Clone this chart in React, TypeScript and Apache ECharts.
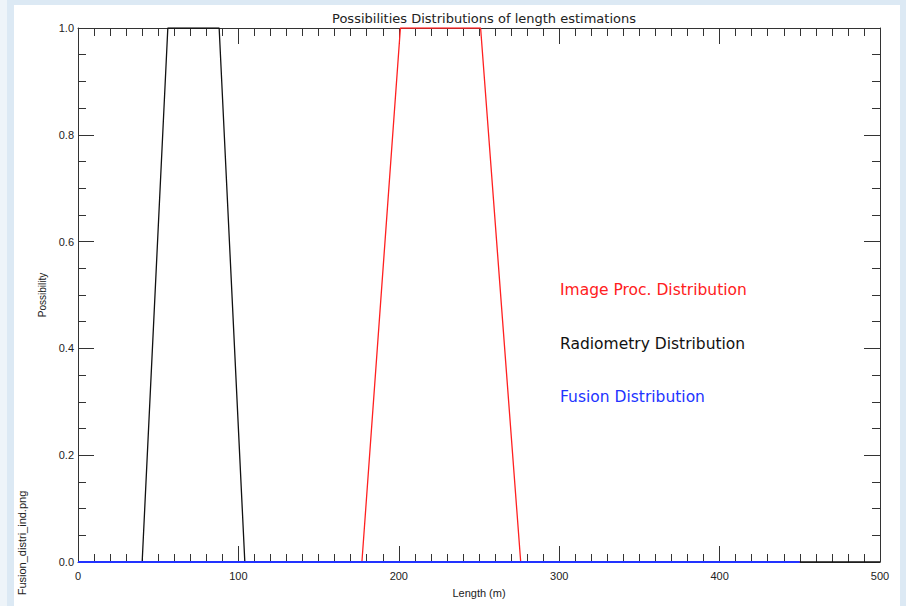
import React, { useEffect, useRef } from "react";
import * as echarts from "echarts";

const radiometryX = [0, 40, 56, 88, 104, 500];
const radiometryY = [0, 0, 1, 1, 0, 0];
const imageProcX = [0, 177, 201, 251, 276, 450];
const imageProcY = [0, 0, 1, 1, 0, 0];
const fusionX = [0, 450];
const fusionY = [0, 0];

const xTicks = [0, 100, 200, 300, 400, 500];
const yTicks = [0, 0.2, 0.4, 0.6, 0.8, 1.0];

const legendTexts = ["Image Proc. Distribution", "Radiometry Distribution", "Fusion Distribution"];
const legendColors = ["#ff2020", "#111111", "#2233ff"];

const pairs = (xs: number[], ys: number[]) => xs.map((x, i) => [x, ys[i]]);

export default function App() {
  const ref = useRef<HTMLDivElement>(null);
  useEffect(() => {
    if (!ref.current) return;
    const chart = echarts.init(ref.current, null, { renderer: "svg" });
    const font = "Liberation Sans, DejaVu Sans, sans-serif";
    const dfont = "DejaVu Sans, sans-serif";
    const axisLine = { show: true, onZero: false, lineStyle: { color: "#333", width: 1 } };
    const axisTick = { show: true, inside: true, length: 16, lineStyle: { color: "#333", width: 1 } };
    const minorTick = (n: number) => ({ show: true, splitNumber: n, length: 8, lineStyle: { color: "#333", width: 1 } });
    chart.setOption({
      animation: false,
      backgroundColor: "#dce9f4",
      title: {
        text: "Possibilities Distributions of length estimations",
        left: 479,
        textAlign: "center",
        top: 7,
        textStyle: { fontSize: 13, fontWeight: "normal", color: "#222", fontFamily: dfont },
      },
      graphic: [
        { type: "rect", z: -10, silent: true, shape: { x: 0, y: 0, width: 7, height: 606 }, style: { fill: "#eef4f9" } },
        { type: "rect", z: -10, silent: true, shape: { x: 14, y: 5, width: 886, height: 601 }, style: { fill: "#ffffff" } },
        ...legendTexts.map((t, i) => ({
          type: "text",
          x: 560,
          y: 290 + i * 53.5,
          style: { text: t, fill: legendColors[i], fontSize: 15.5, fontFamily: dfont, verticalAlign: "middle", align: "left" },
        })),
        {
          type: "text",
          x: 22,
          y: 543,
          rotation: Math.PI / 2,
          style: { text: "Fusion_distri_ind.png", fill: "#222", fontSize: 11, fontFamily: font, align: "center", verticalAlign: "middle" },
        },
      ],
      grid: { left: 78, right: 26, top: 28, bottom: 44, containLabel: false },
      xAxis: [
        {
          type: "value",
          position: "bottom",
          min: xTicks[0],
          max: xTicks[xTicks.length - 1],
          interval: 100,
          minorTick: minorTick(10),
          axisLine,
          axisTick,
          splitLine: { show: false },
          axisLabel: { color: "#222", fontSize: 11, fontFamily: font, margin: 8, formatter: (v: number) => String(v) },
          name: "Length (m)",
          nameLocation: "middle",
          nameGap: 25,
          nameTextStyle: { color: "#222", fontSize: 11, fontFamily: font },
        },
        {
          type: "value",
          position: "top",
          min: xTicks[0],
          max: xTicks[xTicks.length - 1],
          interval: 100,
          minorTick: minorTick(10),
          axisLine,
          axisTick,
          splitLine: { show: false },
          axisLabel: { show: false },
        },
      ],
      yAxis: [
        {
          type: "value",
          position: "left",
          min: yTicks[0],
          max: yTicks[yTicks.length - 1],
          interval: 0.2,
          minorTick: minorTick(4),
          axisLine,
          axisTick,
          splitLine: { show: false },
          axisLabel: { color: "#222", fontSize: 11, fontFamily: font, margin: 4, formatter: (v: number) => v.toFixed(1) },
          name: "Possibility",
          nameLocation: "middle",
          nameRotate: 90,
          nameGap: 30,
          nameTextStyle: { color: "#222", fontSize: 10, fontFamily: font },
        },
        {
          type: "value",
          position: "right",
          min: yTicks[0],
          max: yTicks[yTicks.length - 1],
          interval: 0.2,
          minorTick: minorTick(4),
          axisLine,
          axisTick,
          splitLine: { show: false },
          axisLabel: { show: false },
        },
      ],
      series: [
        {
          name: "Radiometry Distribution",
          type: "line",
          data: pairs(radiometryX, radiometryY),
          symbol: "none",
          lineStyle: { color: "#111", width: 1.3 },
          z: 3,
        },
        {
          name: "Image Proc. Distribution",
          type: "line",
          data: pairs(imageProcX, imageProcY),
          symbol: "none",
          lineStyle: { color: "#ff2020", width: 1.3 },
          z: 4,
        },
        {
          name: "Fusion Distribution",
          type: "line",
          data: pairs(fusionX, fusionY),
          symbol: "none",
          lineStyle: { color: "#2233ff", width: 2 },
          z: 5,
        },
      ],
    });
    return () => chart.dispose();
  }, []);
  return <div ref={ref} style={{ position: "fixed", left: 0, top: 0, width: 906, height: 606 }} />;
}
